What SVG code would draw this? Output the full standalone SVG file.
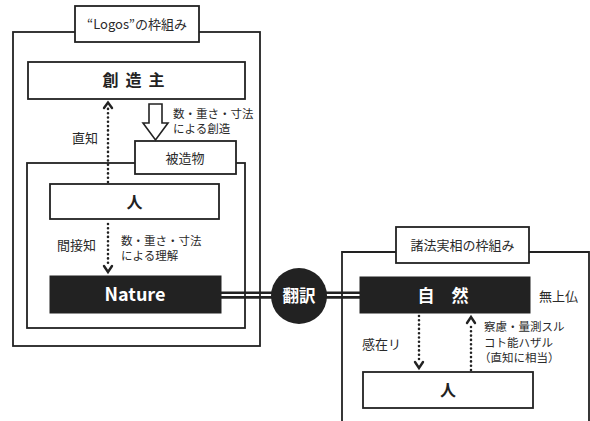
<svg xmlns="http://www.w3.org/2000/svg" width="590" height="421" viewBox="0 0 590 421">
<defs>
<style>
.frame{fill:none;stroke:#222;stroke-width:1.8}
.box{fill:#fff;stroke:#222;stroke-width:1.8}
.blk{fill:#222;stroke:#222;stroke-width:1}
.t{font-family:"Noto Sans CJK JP","Noto Sans",sans-serif;fill:#2a2a2a;font-size:13px}
.s{font-family:"Noto Sans CJK JP","Noto Sans",sans-serif;fill:#2a2a2a;font-size:11.5px}
.b{font-family:"Noto Sans CJK JP","Noto Sans",sans-serif;font-weight:bold;fill:#222;font-size:16px;text-anchor:middle}
.w{font-family:"Noto Sans CJK JP","Noto Sans",sans-serif;font-weight:bold;fill:#fff;text-anchor:middle}
.dot{fill:none;stroke:#222;stroke-width:2.6;stroke-linecap:round;stroke-dasharray:0 4.3}
.chev{fill:none;stroke:#222;stroke-width:2.4;stroke-linecap:round;stroke-linejoin:miter}
.dbl{fill:none;stroke:#222;stroke-width:2.6}
</style>
</defs>
<rect width="590" height="421" fill="#fff"/>
<g id="logos-frame">
<rect class="frame" x="13" y="32" width="247" height="314"/>
<rect class="box" x="75" y="6" width="124" height="36"/>
<text class="t" x="137" y="28.5" text-anchor="middle">“Logos”の枠組み</text>
</g>
<g id="hibutsu-frame">
<rect class="frame" x="27" y="163" width="218" height="165"/>
<rect class="box" x="135" y="141" width="101" height="33"/>
<text class="t" x="185" y="162.5" text-anchor="middle">被造物</text>
</g>
<g id="zouzoushu">
<rect class="box" x="28" y="62" width="217" height="37"/>
<text class="b" x="137" y="86" letter-spacing="7">創造主</text>
</g>
<g id="hito-left">
<rect class="box" x="50" y="184" width="169" height="35"/>
<text class="b" x="134.5" y="207.5">人</text>
</g>
<g id="nature">
<rect class="blk" x="50" y="276" width="171" height="37"/>
<text class="w" x="135" y="301" font-size="18" font-family="'Liberation Sans',Arial,sans-serif">Nature</text>
</g>
<g id="hoho-frame">
<path class="frame" d="M342,421 V252 H589 V421"/>
<rect class="box" x="396" y="227" width="133" height="36"/>
<text class="t" x="462.5" y="250" text-anchor="middle">諸法実相の枠組み</text>
</g>
<g id="shizen">
<rect class="blk" x="360" y="277" width="170" height="36"/>
<text class="w" x="443" y="301.5" font-size="17">自　然</text>
</g>
<g id="hito-right">
<rect class="box" x="363" y="372" width="170" height="36"/>
<text class="b" x="448" y="395.5">人</text>
</g>
<g id="connectors">
<path class="dbl" d="M221,292.8 H275 M221,297.4 H275 M325,292.8 H360 M325,297.4 H360"/>
<path d="M149,104 V123 H143 L155.5,140 L168,123 H162 V104 Z" fill="#fff" stroke="#222" stroke-width="1.6" stroke-linejoin="miter"/>
<path class="dot" d="M108,182 V108"/>
<path class="chev" d="M104,108 L108,102.5 L112,108"/>
<path class="dot" d="M108,224 V267"/>
<path class="chev" d="M104,266 L108,272 L112,266"/>
<path class="dot" d="M419,316 V362"/>
<path class="chev" d="M415,362 L419,368 L423,362"/>
<path class="dot" d="M471,370 V324"/>
<path class="chev" d="M467,323 L471,317 L475,323"/>
</g>
<g id="honyaku">
<circle cx="299" cy="296" r="28" fill="#222"/>
<text class="w" x="299" y="302" font-size="16.5">翻訳</text>
</g>
<g id="labels">
<text class="t" x="72" y="143">直知</text>
<text class="t" x="57" y="250">間接知</text>
<text class="s" x="173" y="118">数・重さ・寸法</text>
<text class="s" x="173" y="133">による創造</text>
<text class="s" x="121" y="244.5">数・重さ・寸法</text>
<text class="s" x="121" y="259.5">による理解</text>
<text class="t" x="539" y="301">無上仏</text>
<text class="t" x="362" y="349">感在リ</text>
<text class="s" x="484" y="331">察慮・量測スル</text>
<text class="s" x="484" y="346.5">コト能ハザル</text>
<text class="s" x="479" y="362">（直知に相当）</text>
</g>
</svg>
